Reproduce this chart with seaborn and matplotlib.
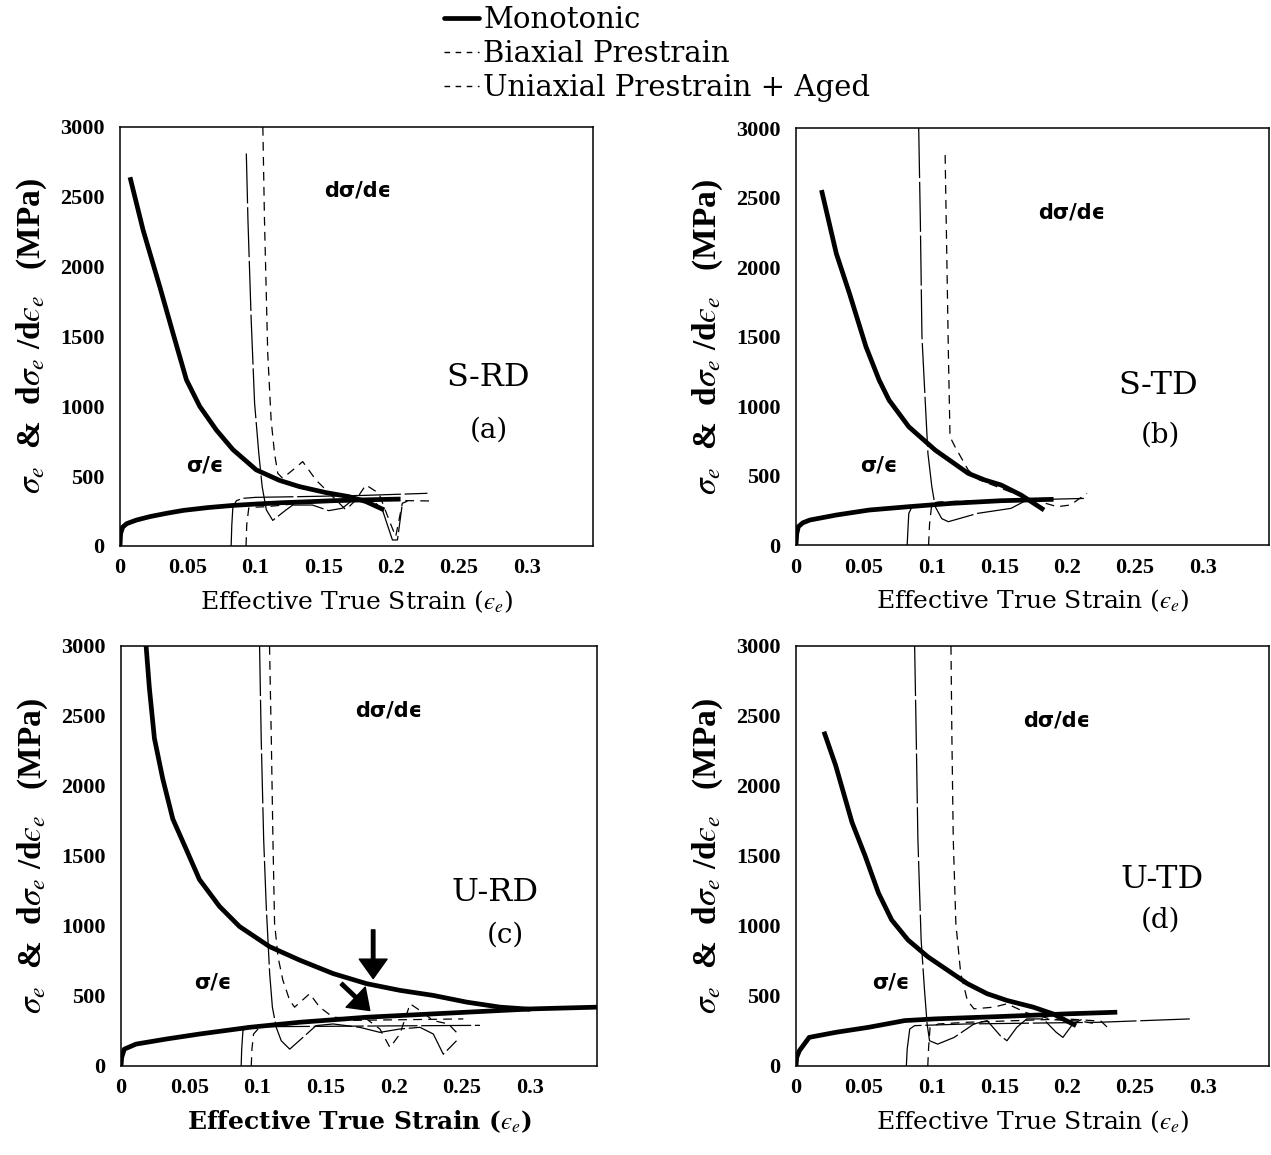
import matplotlib
matplotlib.use("Agg")
import matplotlib.pyplot as plt
from matplotlib.lines import Line2D
from matplotlib.ticker import MultipleLocator, FuncFormatter
import seaborn as sns

# valores: (deformacion efectiva, MPa)
# (a) S-RD
a_mono_rate = ([0.0074, 0.0171, 0.0294, 0.0392, 0.049, 0.0588, 0.0711, 0.0833, 0.1005, 0.1176, 0.1324, 0.152, 0.169, 0.1814, 0.1949],
               [2640, 2260, 1855, 1520, 1190, 1000, 830, 690, 545, 470, 425, 382, 353, 318, 258])
a_mono_sig = ([0, 0.0005, 0.002, 0.005, 0.012, 0.022, 0.035, 0.047, 0.065, 0.083, 0.1, 0.12, 0.14, 0.157, 0.18, 0.207],
              [0, 90, 135, 160, 185, 210, 235, 255, 275, 290, 300, 310, 317, 324, 330, 336])
a_bi_rate = ([0.1054, 0.1066, 0.109, 0.1115, 0.114, 0.1164, 0.12, 0.127, 0.1348, 0.1446, 0.157, 0.1667, 0.174, 0.1814, 0.191, 0.1985, 0.2034, 0.2083, 0.212],
             [3000, 2334, 1380, 902, 664, 520, 485, 540, 604, 472, 353, 258, 330, 437, 377, 186, 67, 306, 320])
a_bi_sig = ([0.093, 0.0935, 0.095, 0.1, 0.108, 0.132, 0.169, 0.2, 0.2304],
            [0, 150, 272, 278, 281, 305, 329, 326, 322])
a_uni_rate = ([0.0932, 0.0944, 0.0968, 0.0993, 0.1024, 0.1049, 0.108, 0.1127, 0.1225, 0.1275, 0.142, 0.154, 0.164, 0.1716, 0.186, 0.1936, 0.201, 0.2047, 0.208],
              [2810, 2334, 1618, 1023, 664, 424, 258, 183, 258, 293, 293, 253, 270, 329, 334, 258, 43, 43, 281])
a_uni_sig = ([0.082, 0.0825, 0.0833, 0.086, 0.0907, 0.1, 0.132, 0.18, 0.2268],
             [0, 150, 281, 325, 341, 348, 353, 362, 377])

# (b) S-TD
b_mono_rate = ([0.0188, 0.0297, 0.0394, 0.0516, 0.0613, 0.0686, 0.0832, 0.1027, 0.127, 0.1392, 0.1513, 0.166, 0.183],
               [2554, 2098, 1811, 1427, 1187, 1043, 851, 683, 516, 468, 432, 360, 252])
b_mono_sig = ([0, 0.0005, 0.0017, 0.005, 0.0102, 0.0297, 0.054, 0.0832, 0.1148, 0.1513, 0.19],
              [0, 80, 132, 160, 180, 216, 252, 276, 300, 319, 329])
b_bi_rate = ([0.11, 0.1112, 0.1124, 0.1136, 0.1173, 0.127, 0.135, 0.16, 0.1757, 0.1927, 0.2024, 0.2146],
             [2806, 2098, 1379, 779, 707, 540, 470, 375, 324, 276, 288, 372])
b_bi_sig = ([0.0978, 0.0985, 0.1002, 0.105, 0.13, 0.16, 0.19],
            [0, 150, 300, 310, 318, 325, 330])
b_uni_rate = ([0.0905, 0.0917, 0.0929, 0.0954, 0.0973, 0.1002, 0.1027, 0.1075, 0.1124, 0.134, 0.1586, 0.168, 0.1708],
              [3000, 2338, 1499, 1019, 660, 419, 276, 190, 168, 228, 264, 312, 324])
b_uni_sig = ([0.082, 0.0826, 0.0832, 0.0856, 0.095, 0.1148, 0.15, 0.19, 0.215],
             [0, 120, 228, 276, 290, 300, 318, 330, 336])

# (c) U-RD
c_mono_rate = ([0.0184, 0.0208, 0.0245, 0.0306, 0.038, 0.0478, 0.0575, 0.0722, 0.0869, 0.109, 0.131, 0.1555, 0.18, 0.2045, 0.2289, 0.2534, 0.278, 0.30],
               [3000, 2700, 2340, 2052, 1764, 1548, 1332, 1140, 996, 852, 756, 660, 588, 540, 504, 456, 420, 405])
c_mono_sig = ([0, 0.0005, 0.0024, 0.011, 0.033, 0.0575, 0.0943, 0.131, 0.18, 0.229, 0.278, 0.3024, 0.349],
              [0, 60, 120, 156, 192, 228, 276, 312, 348, 372, 396, 408, 420])
c_bi_rate = ([0.1089, 0.1102, 0.1114, 0.1126, 0.1151, 0.1187, 0.1237, 0.1273, 0.1383, 0.1457, 0.1555, 0.18, 0.1898, 0.1972, 0.2045, 0.212, 0.2192, 0.229, 0.24, 0.248],
             [3000, 2340, 1620, 1020, 780, 612, 468, 420, 516, 420, 348, 336, 264, 132, 228, 444, 396, 324, 300, 220])
c_bi_sig = ([0.0955, 0.096, 0.0972, 0.1016, 0.12, 0.1555, 0.2045, 0.251],
            [0, 120, 228, 276, 300, 324, 330, 336])
c_uni_rate = ([0.1016, 0.1028, 0.1046, 0.1065, 0.109, 0.111, 0.1138, 0.1175, 0.1237, 0.1334, 0.143, 0.1555, 0.175, 0.1898, 0.2045, 0.2192, 0.229, 0.2363, 0.2412, 0.246],
              [3000, 2340, 1620, 1140, 660, 420, 276, 180, 120, 204, 288, 300, 276, 240, 264, 276, 228, 84, 132, 180])
c_uni_sig = ([0.0881, 0.0885, 0.0894, 0.0918, 0.1, 0.131, 0.18, 0.2632],
             [0, 120, 252, 276, 280, 282, 285, 290])

# (d) U-TD
d_mono_rate = ([0.0206, 0.0292, 0.0413, 0.051, 0.0608, 0.0705, 0.0826, 0.0972, 0.1118, 0.1264, 0.141, 0.1556, 0.175, 0.1896, 0.2066],
               [2388, 2148, 1740, 1500, 1236, 1044, 900, 780, 684, 588, 516, 468, 420, 372, 288])
d_mono_sig = ([0, 0.0005, 0.0024, 0.0097, 0.0292, 0.0535, 0.0802, 0.1021, 0.1507, 0.1994, 0.237],
              [0, 60, 108, 204, 240, 276, 324, 336, 353, 372, 384])
d_bi_rate = ([0.1143, 0.115, 0.116, 0.1179, 0.1215, 0.1264, 0.1313, 0.1459, 0.1556, 0.17, 0.19, 0.21, 0.222],
             [3000, 2340, 1620, 1020, 660, 468, 408, 420, 444, 380, 330, 320, 300])
d_bi_sig = ([0.0972, 0.0978, 0.0989, 0.105, 0.1264, 0.1994, 0.225, 0.231],
            [0, 130, 276, 300, 312, 336, 320, 264])
d_uni_rate = ([0.0875, 0.0887, 0.0899, 0.0923, 0.0948, 0.0967, 0.0985, 0.1045, 0.1167, 0.1313, 0.141, 0.1507, 0.1556, 0.1629, 0.1702, 0.1823, 0.192, 0.1969, 0.2042, 0.2115],
              [3000, 2340, 1620, 900, 540, 300, 180, 156, 204, 300, 324, 216, 180, 276, 336, 336, 240, 204, 300, 336])
d_uni_sig = ([0.0814, 0.082, 0.0839, 0.0875, 0.1264, 0.2237, 0.2905],
             [0, 120, 264, 288, 300, 312, 336])

series_labels = ["Monotonic", "Biaxial Prestrain", "Uniaxial Prestrain + Aged"]
panel_names = ["S-RD", "S-TD", "U-RD", "U-TD"]
panel_letters = ["(a)", "(b)", "(c)", "(d)"]

sns.set_style("white")
plt.rcParams["font.family"] = ["Liberation Serif", "DejaVu Serif"]
plt.rcParams["mathtext.fontset"] = "stix"
for key in ["text.color", "axes.labelcolor", "xtick.color", "ytick.color", "axes.edgecolor"]:
    plt.rcParams[key] = "black"

styles = {
    "mono": dict(lw=3.4, solid_capstyle="butt"),
    "bi": dict(lw=0.9, ls=(0, (7, 5))),
    "uni": dict(lw=0.9, ls=(0, (40, 3))),
}

fig = plt.figure(figsize=(12.71, 11.55), dpi=100)
positions = [
    [0.0944, 0.5273, 0.3722, 0.3628],
    [0.6263, 0.5281, 0.3722, 0.3610],
    [0.0952, 0.0771, 0.3745, 0.3636],
    [0.6263, 0.0771, 0.3722, 0.3636],
]
panels = [
    [(a_mono_rate, "mono"), (a_mono_sig, "mono"), (a_bi_rate, "bi"), (a_bi_sig, "bi"), (a_uni_rate, "uni"), (a_uni_sig, "uni")],
    [(b_mono_rate, "mono"), (b_mono_sig, "mono"), (b_bi_rate, "bi"), (b_bi_sig, "bi"), (b_uni_rate, "uni"), (b_uni_sig, "uni")],
    [(c_mono_rate, "mono"), (c_mono_sig, "mono"), (c_bi_rate, "bi"), (c_bi_sig, "bi"), (c_uni_rate, "uni"), (c_uni_sig, "uni")],
    [(d_mono_rate, "mono"), (d_mono_sig, "mono"), (d_bi_rate, "bi"), (d_bi_sig, "bi"), (d_uni_rate, "uni"), (d_uni_sig, "uni")],
]
# posiciones de los textos dentro de cada panel (coordenadas de datos)
rate_txt = [(0.175, 2543), (0.2036, 2396), (0.1964, 2540), (0.192, 2468)]
sig_txt = [(0.0625, 579), (0.0613, 575), (0.067, 597), (0.0702, 597)]
name_txt = [(0.272, 1207), (0.267, 1151), (0.274, 1237), (0.27, 1331)]
letter_txt = [(0.272, 829), (0.269, 791), (0.2816, 935), (0.2688, 1043)]

for i, pos in enumerate(positions):
    ax = fig.add_axes(pos)
    for xy, kind in panels[i]:
        sns.lineplot(x=xy[0], y=xy[1], ax=ax, sort=False, estimator=None,
                     color="black", **styles[kind])
    ax.set_xlim(0, 0.349)
    ax.set_ylim(0, 3000)
    ax.xaxis.set_major_locator(MultipleLocator(0.05))
    ax.xaxis.set_minor_locator(MultipleLocator(0.01))
    ax.yaxis.set_major_locator(MultipleLocator(500))
    ax.yaxis.set_minor_locator(MultipleLocator(100))
    ax.xaxis.set_major_formatter(FuncFormatter(lambda v, p: f"{v:g}"))
    ax.tick_params(which="both", direction="in", top=False, right=False, width=1)
    ax.tick_params(which="major", length=8, labelsize=16)
    ax.tick_params(which="minor", length=4)
    ax.tick_params(axis="x", pad=9)
    ax.tick_params(axis="y", pad=11)
    plt.setp(ax.get_xticklabels() + ax.get_yticklabels(), fontweight="bold")
    for sp in ax.spines.values():
        sp.set_linewidth(1.1)
    ax.set_xlabel(r"Effective True Strain ($ϵ_e$)", fontsize=18,
                  family="DejaVu Serif", fontweight="bold" if i == 2 else "normal", labelpad=7)
    ax.set_ylabel(r"$\sigma_e$  &  d$\sigma_e$ /d$ϵ_e$   (MPa)", fontsize=24,
                  fontweight="bold", labelpad=8)
    ax.text(*rate_txt[i], "dσ/dϵ", fontsize=15, fontweight="bold",
            family="DejaVu Sans", ha="center", va="center")
    ax.text(*sig_txt[i], "σ/ϵ", fontsize=15, fontweight="bold",
            family="DejaVu Sans", ha="center", va="center")
    ax.text(*name_txt[i], panel_names[i], fontsize=23, family="DejaVu Serif",
            ha="center", va="center")
    ax.text(*letter_txt[i], panel_letters[i], fontsize=20, family="DejaVu Serif",
            ha="center", va="center")
    if i == 2:
        arrow = dict(facecolor="black", edgecolor="black", width=2.5,
                     headwidth=20, headlength=14, shrink=0)
        ax.annotate("", xy=(0.1849, 624), xytext=(0.1849, 972), arrowprops=arrow)
        ax.annotate("", xy=(0.1824, 396), xytext=(0.1616, 588), arrowprops=arrow)

handles = [
    Line2D([], [], color="black", lw=3.4),
    Line2D([], [], color="black", lw=1.0, ls=(0, (4, 4))),
    Line2D([], [], color="black", lw=1.0, ls=(0, (4, 4))),
]
fig.legend(handles, series_labels, loc="upper left", bbox_to_anchor=(0.347, 0.997),
           frameon=False, handlelength=1.2, handletextpad=0.15, labelspacing=0.2,
           borderpad=0.1, borderaxespad=0, prop={"family": "DejaVu Serif", "size": 21})

fig.savefig("out.png", dpi=100)
